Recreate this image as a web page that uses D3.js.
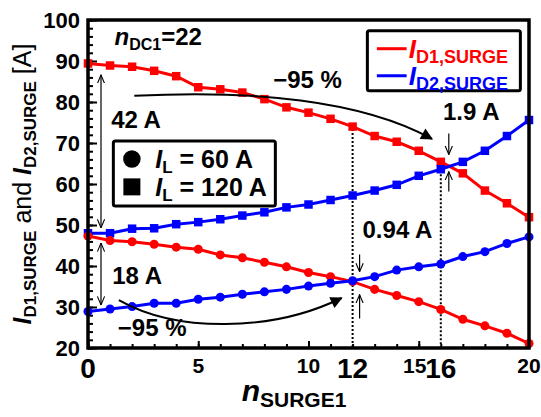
<!DOCTYPE html>
<html>
<head>
<meta charset="utf-8">
<script src="https://cdn.jsdelivr.net/npm/d3@7"></script>
<style>
  body { margin: 0; background: #fff; }
  svg { font-family: Arial, "Liberation Sans", sans-serif; font-weight: bold; }
</style>
</head>
<body>
<div id="chart"></div>
<script>
// ---------------- data ----------------
const nSurge = [0, 1, 2, 3, 4, 5, 6, 7, 8, 9, 10, 11, 12, 13, 14, 15, 16, 17, 18, 19, 20];
// I_L = 120 A (squares)
const iD1_120 = [89.4, 88.9, 88.6, 87.6, 86.3, 83.6, 83.1, 82.3, 80.7, 78.7, 77.4, 75.9, 74.0, 71.7, 70.3, 68.1, 65.4, 62.6, 58.4, 55.3, 51.9];
const iD2_120 = [48.0, 48.0, 49.1, 49.2, 50.2, 50.7, 51.4, 52.3, 53.1, 54.3, 55.0, 56.1, 57.2, 58.4, 59.8, 62.0, 63.6, 65.4, 68.1, 71.7, 75.6];
// I_L = 60 A (circles)
const iD1_60 = [47.3, 46.2, 45.9, 45.3, 44.6, 44.1, 42.7, 42.0, 40.9, 39.8, 38.4, 37.4, 36.2, 34.3, 32.8, 31.3, 29.4, 27.0, 25.4, 23.6, 21.1];
const iD2_60 = [28.9, 29.5, 30.1, 30.9, 30.9, 31.9, 32.4, 33.1, 33.7, 34.3, 35.1, 35.8, 36.4, 37.4, 39.0, 39.8, 40.5, 42.3, 43.5, 45.5, 47.1];

const yTicks = [20, 30, 40, 50, 60, 70, 80, 90, 100];
const xTicksSmall = [5, 10, 15, 20];
const xTicksBig = [0, 12, 16];

// ---------------- svg ----------------
const W = 541, H = 417;
const margin = { left: 88, top: 20, right: 12, bottom: 69 };
const width = W - margin.left - margin.right;
const height = H - margin.top - margin.bottom;

const svg = d3.select("#chart").append("svg")
  .attr("width", W).attr("height", H);

const defs = svg.append("defs");
defs.append("marker").attr("id", "head")
  .attr("viewBox", "0 0 10 10").attr("refX", 9).attr("refY", 5)
  .attr("markerWidth", 16).attr("markerHeight", 12).attr("orient", "auto")
  .attr("markerUnits", "userSpaceOnUse")
  .append("path").attr("d", "M0,0 L10,5 L0,10 Z").attr("fill", "#000");
defs.append("marker").attr("id", "vee")
  .attr("viewBox", "0 0 10 10").attr("refX", 9.5).attr("refY", 5)
  .attr("markerWidth", 9).attr("markerHeight", 9).attr("orient", "auto-start-reverse")
  .attr("markerUnits", "userSpaceOnUse")
  .append("path").attr("d", "M0,1 L9.5,5 L0,9").attr("fill", "none")
  .attr("stroke", "#000").attr("stroke-width", 1.2);

const g = svg.append("g").attr("transform", `translate(${margin.left},${margin.top})`);

const x = d3.scaleLinear().domain([0, 20]).range([0, width]);
const y = d3.scaleLinear().domain([20, 100]).range([height, 0]);

// ---------------- axes (inside ticks) ----------------
const xMinor = g.append("g").attr("transform", `translate(0,${height})`)
  .call(d3.axisBottom(x).ticks(20).tickSize(-4).tickFormat(""));
const yMinor = g.append("g")
  .call(d3.axisLeft(y).ticks(40).tickSize(-5).tickFormat(""));
const yMajor = g.append("g")
  .call(d3.axisLeft(y).tickValues(yTicks).tickSize(-9).tickPadding(8));
const xMajor = g.append("g").attr("transform", `translate(0,${height})`)
  .call(d3.axisBottom(x).tickValues([0, 5, 10, 15, 20]).tickSize(-7).tickFormat(""));

[xMinor, yMinor, yMajor, xMajor].forEach(a => {
  a.select(".domain").remove();
  a.selectAll("line").attr("stroke", "#000").attr("stroke-width", 2);
});
yMajor.selectAll("text").attr("font-size", 22).attr("fill", "#000")
  .attr("font-family", "Arial, 'Liberation Sans', sans-serif").attr("font-weight", "bold")
  .attr("dy", "0.36em");

// x tick labels: small and big
g.append("g").selectAll("text").data(xTicksSmall).join("text")
  .attr("x", d => x(d) - (d === 15 ? 4 : 0)).attr("y", height + 25)
  .attr("text-anchor", "middle").attr("font-size", 21).text(d => d);
g.append("g").selectAll("text").data(xTicksBig).join("text")
  .attr("x", d => x(d)).attr("y", height + 30)
  .attr("text-anchor", "middle").attr("font-size", 28).text(d => d);

// ---------------- dotted guides ----------------
g.append("line").attr("x1", x(12)).attr("x2", x(12)).attr("y1", y(74.4)).attr("y2", height)
  .attr("stroke", "#000").attr("stroke-width", 2).attr("stroke-dasharray", "2,2");
g.append("line").attr("x1", x(16)).attr("x2", x(16)).attr("y1", y(64.3)).attr("y2", height)
  .attr("stroke", "#000").attr("stroke-width", 2).attr("stroke-dasharray", "2,2");

// ---------------- series ----------------
const series = [
  { vals: iD1_120, color: "#ff0000", shape: "square" },
  { vals: iD2_120, color: "#0000ff", shape: "square" },
  { vals: iD1_60, color: "#ff0000", shape: "circle" },
  { vals: iD2_60, color: "#0000ff", shape: "circle" }
];
const line = d3.line().x((d, i) => x(nSurge[i])).y(d => y(d));
const sq = d3.symbol().type(d3.symbolSquare).size(72);
const ci = d3.symbol().type(d3.symbolCircle).size(64);

series.forEach(s => {
  g.append("path").attr("d", line(s.vals)).attr("fill", "none")
    .attr("stroke", s.color).attr("stroke-width", 3);
  g.append("g").selectAll("path").data(s.vals).join("path")
    .attr("transform", (d, i) => `translate(${x(nSurge[i])},${y(d)})`)
    .attr("d", s.shape === "square" ? sq : ci)
    .attr("fill", s.color);
});

// ---------------- frame ----------------
g.append("rect").attr("width", width).attr("height", height)
  .attr("fill", "none").attr("stroke", "#000").attr("stroke-width", 3.5);

// ---------------- annotations ----------------
function arrowLine(x1, y1, x2, y2, both) {
  const l = g.append("line").attr("x1", x1).attr("y1", y1).attr("x2", x2).attr("y2", y2)
    .attr("stroke", "#000").attr("stroke-width", 1.2).attr("marker-end", "url(#vee)");
  if (both) l.attr("marker-start", "url(#vee)");
}
// double arrows 42 A / 18 A
arrowLine(13, y(86.6), 13, y(49.3), true);
arrowLine(13, y(45.6), 13, y(30.5), true);
// small arrows at n=12 and n=16
arrowLine(x(12) + 7, y(42.8), x(12) + 7, y(38.6), false);
arrowLine(x(12) + 7, y(27.2), x(12) + 7, y(33.0), false);
arrowLine(x(16) + 8, y(72.3), x(16) + 8, y(67.2), false);
arrowLine(x(16) + 8, y(58.2), x(16) + 8, y(63.0), false);

// curved arrows
g.append("path").attr("d", `M${x(2.1)},${y(81.5)} C${x(7.4)},${y(83.0)} ${x(12.4)},${y(80.5)} ${x(15.6)},${y(71.0)}`)
  .attr("fill", "none").attr("stroke", "#000").attr("stroke-width", 2).attr("marker-end", "url(#head)");
g.append("path").attr("d", `M${x(1.4)},${y(31.7)} C${x(4.0)},${y(23.8)} ${x(8.3)},${y(23.8)} ${x(11.5)},${y(32.2)}`)
  .attr("fill", "none").attr("stroke", "#000").attr("stroke-width", 2).attr("marker-end", "url(#head)");

function label(px, py, txt, size) {
  g.append("text").attr("x", px).attr("y", py).attr("font-size", size || 24).text(txt);
}
label(x(8.4), y(83.4), "\u221295 %");
label(x(1.05), y(73.7), "42 A");
label(x(16.1), y(75.6), "1.9 A");
label(x(12.45), y(46.8), "0.94 A");
label(x(1.1), y(35.6), "18 A");
label(x(1.35), y(22.9), "\u221295 %");

// n_DC1 = 22
const nd = g.append("text").attr("x", x(1.2)).attr("y", y(93.9)).attr("font-size", 24);
nd.append("tspan").attr("font-style", "italic").text("n");
nd.append("tspan").attr("font-size", 16).attr("dy", 5).text("DC1");
nd.append("tspan").attr("dy", -5).text("=22");

// legend: series
const lg = g.append("g");
lg.append("rect").attr("x", x(12.67)).attr("y", y(97.4)).attr("width", 153).attr("height", 60)
  .attr("rx", 2).attr("fill", "#fff").attr("stroke", "#000").attr("stroke-width", 3);
const lgItems = [{ c: "#ff0000", sub: "D1,SURGE", v: 93.0 }, { c: "#0000ff", sub: "D2,SURGE", v: 86.4 }];
lgItems.forEach(it => {
  lg.append("line").attr("x1", x(13.1)).attr("x2", x(14.45)).attr("y1", y(it.v)).attr("y2", y(it.v))
    .attr("stroke", it.c).attr("stroke-width", 3);
  const t = lg.append("text").attr("x", x(14.55)).attr("y", y(it.v) + 9).attr("font-size", 26).attr("fill", it.c);
  t.append("tspan").attr("font-style", "italic").text("I");
  t.append("tspan").attr("font-size", 18).attr("dy", 5).text(it.sub);
});

// legend: markers
const lm = g.append("g");
lm.append("rect").attr("x", x(1.15)).attr("y", y(70.5)).attr("width", 162).attr("height", 65)
  .attr("rx", 2).attr("fill", "#fff").attr("stroke", "#000").attr("stroke-width", 3);
const lmItems = [{ il: "60 A", v: 66.1 }, { il: "120 A", v: 59.3 }];
lmItems.forEach((it, k) => {
  lm.append("path").attr("transform", `translate(${x(1.99)},${y(it.v)})`)
    .attr("d", k === 0 ? d3.symbol().type(d3.symbolCircle).size(240) : d3.symbol().type(d3.symbolSquare).size(289));
  const t = lm.append("text").attr("x", x(3.05)).attr("y", y(it.v) + 9).attr("font-size", 25);
  t.append("tspan").attr("font-style", "italic").text("I");
  t.append("tspan").attr("font-size", 17).attr("dy", 5).text("L");
  t.append("tspan").attr("dy", -5).text(" = " + it.il);
});

// axis titles
const yt = svg.append("text").attr("transform", "translate(31,184) rotate(-90)")
  .attr("text-anchor", "middle").attr("font-size", 25).attr("font-weight", "normal");
yt.append("tspan").attr("font-style", "italic").attr("font-weight", "bold").text("I");
yt.append("tspan").attr("font-size", 17).attr("font-weight", "bold").attr("dy", 5).text("D1,SURGE");
yt.append("tspan").attr("dy", -5).text(" and ");
yt.append("tspan").attr("font-style", "italic").attr("font-weight", "bold").text("I");
yt.append("tspan").attr("font-size", 17).attr("font-weight", "bold").attr("dy", 5).text("D2,SURGE");
yt.append("tspan").attr("dy", -5).text(" [A]");

const xt = svg.append("text").attr("x", 294).attr("y", 401).attr("text-anchor", "middle").attr("font-size", 30);
xt.append("tspan").attr("font-style", "italic").text("n");
xt.append("tspan").attr("font-size", 21).attr("dy", 6).text("SURGE1");
</script>
</body>
</html>
